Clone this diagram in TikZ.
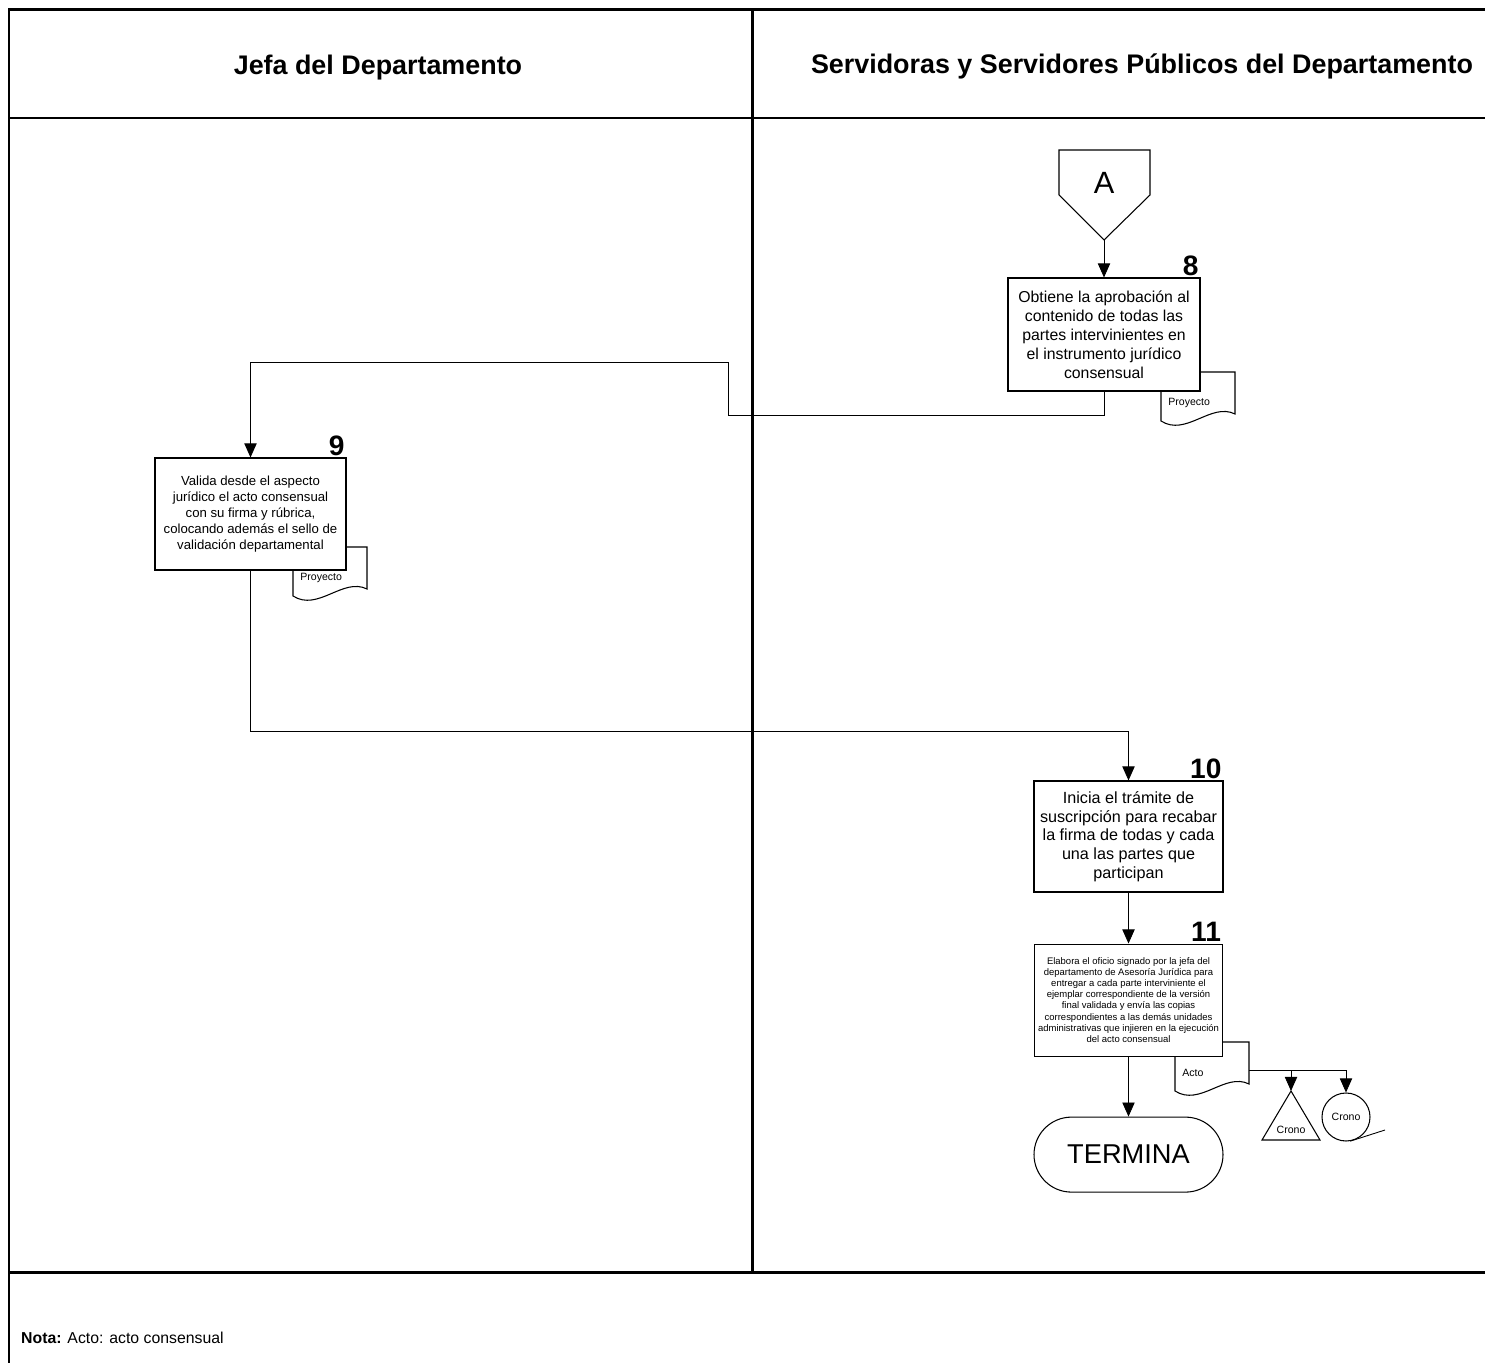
\documentclass[tikz,border=0pt]{standalone}
\usepackage{fontspec}
\setmainfont{Liberation Sans}
\usetikzlibrary{positioning, arrows.meta}

\tikzset{
    caja/.style={draw, fill=white, line width=0.6pt, align=center, inner sep=2pt},
    num/.style={font=\fontsize{16}{16}\selectfont\bfseries, anchor=south east, inner sep=1pt},
    flecha/.style={line width=0.5pt, -{Triangle[length=8pt, width=7pt]}},
    linea/.style={line width=0.5pt},
    marco/.style={line width=1.7pt},
    pics/hoja/.style={code={
        \draw [line width=0.6pt, fill=white] (0,0) -- (1.48,0) -- (1.48,-0.84) .. controls (1.0,-0.6) and (0.5,-1.3) .. (0,-0.98) -- cycle;
        \node [font=\fontsize{6}{7}\selectfont, anchor=west, inner sep=0pt] at (0.14,-0.62) {#1};
    }}
}

\begin{document}
\begin{tikzpicture}
        \useasboundingbox (0,0) rectangle (29.7,-27.26);

        \draw [marco] (29.7,-0.2) -- (0.18,-0.2) -- (0.18,-27.26);
        \draw [marco] (0.18,-2.36) -- (29.7,-2.36);
        \draw [marco] (15.04,-0.2) -- (15.04,-25.44);
        \draw [marco] (0.18,-25.44) -- (29.7,-25.44);

        \node (jefa) at (7.56,-1.36) [font=\fontsize{15.3}{18}\selectfont\bfseries] {Jefa del Departamento};
        \node (servidores) at (22.84,-1.32) [font=\fontsize{15.3}{18}\selectfont\bfseries] {Servidoras y Servidores Públicos del Departamento};

        \node (conA) at (22.08,-3.66) [font=\fontsize{17.5}{18}\selectfont] {A};
        \draw [line width=0.6pt] (21.18,-3.0) -- (23.0,-3.0) -- (23.0,-3.9) -- (22.08,-4.8) -- (21.18,-3.9) -- cycle;
        \coordinate (puntaA) at (22.08,-4.8);

        \pic at (23.22,-7.44) {hoja=Proyecto};
        \node (p8) [caja, minimum width=3.84cm, minimum height=2.26cm, font=\fontsize{9}{10.8}\selectfont, label={[num]north east:8}] at (22.08,-6.69)
            {Obtiene la aprobación al\\contenido de todas las\\partes intervinientes en\\el instrumento jurídico\\consensual};
        \draw [flecha] (puntaA) -- (p8.north);

        \pic at (5.86,-10.94) {hoja=Proyecto};
        \node (p9) [caja, minimum width=3.82cm, minimum height=2.24cm, font=\fontsize{7.5}{9.2}\selectfont, label={[num]north east:9}] at (5.01,-10.28)
            {Valida desde el aspecto\\jurídico el acto consensual\\con su firma y rúbrica,\\colocando además el sello de\\validación departamental};
        \draw [flecha] (p8.south) -- ++(0,-0.48) -| (14.56,-7.24) -| (p9.north);

        \node (p10) [caja, minimum width=3.78cm, minimum height=2.22cm, font=\fontsize{9.2}{10.6}\selectfont, label={[num]north east:10}] at (22.57,-16.73)
            {Inicia el trámite de\\suscripción para recabar\\la firma de todas y cada\\una las partes que\\participan};
        \draw [flecha] (p9.south) -- ++(0,-3.22) -| (p10.north);

        \pic at (23.5,-20.84) {hoja=Acto};
        \node (p11) [caja, minimum width=3.76cm, minimum height=2.24cm, font=\fontsize{5.4}{6.3}\selectfont, label={[num]north east:11}, below=1.02cm of p10]
            {Elabora el oficio signado por la jefa del\\departamento de Asesoría Jurídica para\\entregar a cada parte interviniente el\\ejemplar correspondiente de la versión\\final validada y envía las copias\\correspondientes a las demás unidades\\administrativas que injieren en la ejecución\\del acto consensual};
        \draw [flecha] (p10.south) -- (p11.north);

        \node (termina) [draw, line width=0.6pt, rounded corners=0.75cm, minimum width=3.78cm, minimum height=1.5cm, font=\fontsize{15.5}{18}\selectfont, below=1.2cm of p11] {TERMINA};
        \draw [flecha] (p11.south) -- (termina.north);

        \coordinate (acto) at (24.98,-21.4);
        \coordinate (puntaT) at (25.82,-21.82);
        \draw [line width=0.6pt] (puntaT) -- (26.4,-22.8) -- (25.24,-22.8) -- cycle;
        \node (crono1) at (25.82,-22.6) [font=\fontsize{6}{7}\selectfont] {Crono};
        \node (crono2) [draw, circle, line width=0.6pt, minimum size=0.96cm, inner sep=0pt, font=\fontsize{6}{7}\selectfont] at (26.92,-22.34) {Crono};
        \coordinate (colita) at (27.7,-22.6);
        \draw [linea] (acto) -- (26.92,-21.4);
        \draw [flecha] (25.82,-21.4) -- (puntaT);
        \draw [flecha] (26.92,-21.4) -- (crono2.north);
        \draw [linea] (crono2.-80) -- (colita);

        \node (nota) [anchor=west, font=\fontsize{9}{11}\selectfont] at (0.3,-26.76) {\textbf{Nota:} Acto: acto consensual};
    \end{tikzpicture}
\end{document}
